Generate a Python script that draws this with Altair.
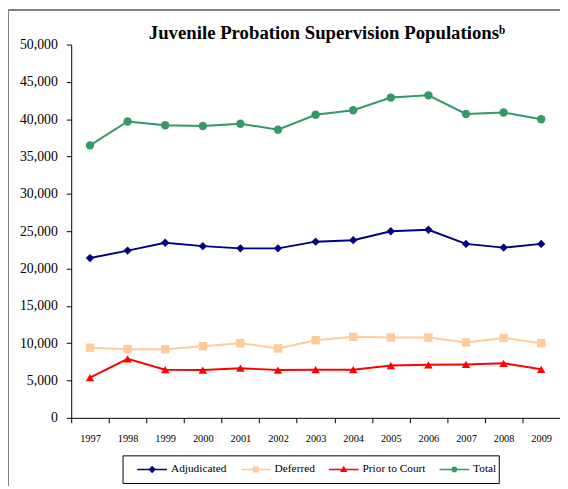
import altair as alt
import pandas as pd

years = [str(y) for y in range(1997, 2010)]
adjudicated = [21400, 22400, 23450, 23000, 22700, 22700, 23600, 23800, 25000, 25200, 23300, 22800, 23300]
deferred = [9400, 9200, 9200, 9600, 10000, 9300, 10400, 10850, 10750, 10750, 10100, 10700, 10000]
prior_to_court = [5400, 7900, 6450, 6400, 6650, 6400, 6450, 6450, 7000, 7100, 7150, 7300, 6500]
total = [36500, 39700, 39200, 39100, 39400, 38600, 40600, 41200, 42900, 43200, 40700, 40900, 40000]

series = ["Adjudicated", "Deferred", "Prior to Court", "Total"]
colors = ["#000080", "#FFCC99", "#FF0000", "#339966"]
shapes = ["diamond", "square", "triangle-up", "circle"]
values = [adjudicated, deferred, prior_to_court, total]
title_text = "Juvenile Probation Supervision Populationsᵇ"

rows = []
for name, vals in zip(series, values):
    for yr, v in zip(years, vals):
        rows.append({"Year": yr, "Series": name, "Value": v})
df = pd.DataFrame(rows)

SERIF = "Liberation Serif"

# legend symbols: a line segment with the series marker on it
line_part = "M-1,-0.05H1V0.05H-1Z "
legend_paths = [
    line_part + "M0,-0.25L0.25,0L0,0.25L-0.25,0Z",
    line_part + "M-0.2,-0.2H0.2V0.2H-0.2Z",
    line_part + "M0,-0.25L0.24,0.18H-0.24Z",
    line_part + "M-0.2,0A0.2,0.2,0,0,1,0.2,0A0.2,0.2,0,0,1,-0.2,0Z",
]

x_enc = alt.X(
    "Year:N",
    sort=years,
    title=None,
    scale=alt.Scale(paddingInner=0, paddingOuter=0),
    axis=alt.Axis(
        labelAngle=0,
        labelFont=SERIF,
        labelFontSize=10.5,
        labelColor="#000",
        labelPadding=11,
        tickBand="extent",
        tickSize=5,
        tickColor="#000",
        domainColor="#000",
        grid=False,
    ),
)
y_enc = alt.Y(
    "Value:Q",
    title=None,
    scale=alt.Scale(domain=[0, 50000], nice=False),
    axis=alt.Axis(
        values=list(range(0, 50001, 5000)),
        format=",.0f",
        labelFont=SERIF,
        labelFontSize=14,
        labelColor="#000",
        labelPadding=9,
        tickSize=5,
        tickColor="#000",
        domainColor="#000",
        grid=False,
    ),
)
color_scale = alt.Scale(domain=series, range=colors)

lines = alt.Chart(df).mark_line(strokeWidth=2).encode(
    x=x_enc,
    y=y_enc,
    color=alt.Color("Series:N", scale=color_scale, legend=None),
    detail="Series:N",
)

point_layers = []
for name, shp in zip(series, shapes):
    point_layers.append(
        alt.Chart(df)
        .transform_filter(alt.datum.Series == name)
        .mark_point(filled=True, size=72, opacity=1, shape=shp)
        .encode(
            x=x_enc,
            y=y_enc,
            color=alt.Color("Series:N", scale=color_scale, legend=None),
        )
    )

legend_props = dict(
    title=None,
    orient="none",
    legendX=67,
    legendY=415,
    direction="horizontal",
    columns=4,
    padding=0,
    symbolSize=900,
    symbolStrokeWidth=0,
    symbolOpacity=1,
    labelFont=SERIF,
    labelFontSize=11.5,
    labelColor="#000",
    labelOffset=4,
    columnPadding=14,
)

legend_layer = alt.Chart(df).mark_point(filled=True, size=900, opacity=0).encode(
    x=x_enc,
    y=y_enc,
    color=alt.Color("Series:N", scale=color_scale, legend=alt.Legend(**legend_props)),
    shape=alt.Shape(
        "Series:N",
        scale=alt.Scale(domain=series, range=legend_paths),
        legend=alt.Legend(**legend_props),
    ),
)

one = pd.DataFrame({"k": [0]})
legend_box = alt.Chart(one).mark_rect(fill=None, stroke="#000", strokeWidth=1).encode(
    x=alt.value(52.5), x2=alt.value(433.5), y=alt.value(416.5), y2=alt.value(444.5)
)
frame = alt.Chart(one).mark_rect(fill=None, stroke="#808080", strokeWidth=2).encode(
    x=alt.value(-64), x2=alt.value(800), y=alt.value(-35), y2=alt.value(800)
)
title = alt.Chart(pd.DataFrame({"t": [title_text]})).mark_text(
    font=SERIF, fontSize=19, fontWeight="bold", color="#000", align="center", baseline="alphabetic"
).encode(text="t:N", x=alt.value(259), y=alt.value(-6))

chart = (
    alt.layer(frame, title, lines, *point_layers, legend_layer, legend_box)
    .resolve_legend(color="independent", shape="independent")
    .properties(
        width=495,
        height=378,
        autosize=alt.AutoSizeParams(type="none"),
        padding={"left": 64, "top": 34, "right": 0, "bottom": 66},
    )
    .configure_view(stroke=None)
    .configure_legend(labelFont=SERIF, labelFontSize=11.5, labelColor="#000")
)

chart.save("out.html", embed_options={"renderer": "svg", "actions": False})
